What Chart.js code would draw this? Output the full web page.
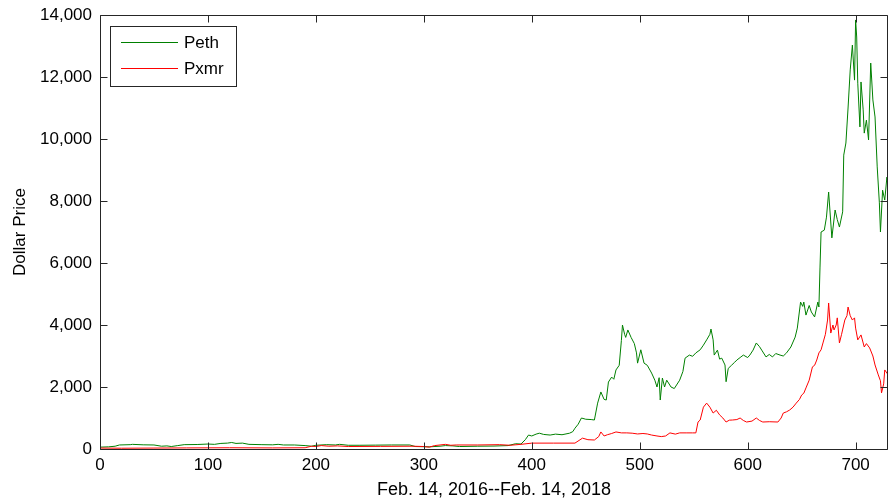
<!DOCTYPE html>
<html>
<head>
<meta charset="utf-8">
<script src="https://cdn.jsdelivr.net/npm/chart.js@4/dist/chart.umd.min.js"></script>
<style>
  html, body { margin: 0; padding: 0; background: #fff; }
  #wrap { width: 888px; height: 503px; }
</style>
</head>
<body>
<div id="wrap"><canvas id="myChart" width="888" height="503"></canvas></div>
<script>
// Values (day index, dollar price)
var ethDays = [0,8,14,18,28,30,40,50,57,62,66,72,78,90,100,106,112,118,122,126,132,138,150,160,165,170,180,190,196,200,210,218,222,230,240,255,270,287,292,305,315,320,327,333,350,365,378,385,390,394,397,400,404,407,411,417,422,428,435,438,440,443,446,450,455,458,461,464,467,469,471,474,476,478,481,483,484,486,487,489,492,495,497,498,501,504,507,511,514,516,518,519,521,523,525,529,532,537,540,542,546,549,552,556,559,562,565,566,568,569,572,574,576,579,580,582,585,588,590,593,596,600,602,605,608,611,613,617,620,623,626,630,633,636,640,644,646,649,651,652,654,657,659,662,665,666,667,668,671,673,675,678,681,683,685,688,689,691,693,695,697,699,700,701,702,704,705,707,708,710,712,714,716,718,720,722,723,725,727,729,730];
var ethPrice = [60,70,90,130,140,150,135,130,90,100,80,110,140,145,160,150,180,190,210,180,190,150,140,135,150,130,130,110,90,120,140,130,150,120,120,125,130,130,80,70,90,110,100,80,90,95,110,170,160,300,450,420,480,510,470,450,480,460,510,560,670,800,1000,960,950,935,1480,1840,1600,1580,2160,2320,2250,2550,2700,3500,4000,3700,3600,3840,3600,3400,3100,2770,3200,2770,2700,2450,2220,2000,2300,1580,2290,2000,2220,2000,1950,2220,2500,2930,3030,2990,3100,3200,3350,3520,3700,3870,3520,3030,3190,2900,2930,2710,2170,2600,2700,2800,2870,2950,3030,2950,3030,3190,3420,3300,3190,2970,3050,2970,3080,3030,3000,3100,3290,3610,3900,4740,4600,4740,4320,4630,4420,4260,4740,4580,5840,7000,7060,7480,8290,6810,7710,7400,7160,7650,9480,9870,11000,12230,13030,11900,13840,13290,11800,10390,11840,10940,10190,10610,9970,12450,11260,10710,9100,7940,7000,8350,8030,8770,8500];

var xmrDays = [0,20,50,80,120,160,190,196,200,205,212,220,230,260,290,300,305,310,315,320,325,330,350,370,380,390,400,420,440,447,452,458,462,464,467,470,474,478,483,488,493,498,503,507,511,516,520,524,528,533,537,543,549,552,554,556,559,562,565,568,571,574,577,580,583,586,590,593,596,599,604,608,611,614,620,628,631,633,636,639,642,645,648,650,652,654,657,660,662,664,666,668,670,672,674,675,677,679,680,682,683,685,687,690,692,693,695,697,699,700,702,705,708,710,713,716,718,721,723,724,726,727,729,730];
var xmrPrice = [30,25,30,35,40,35,40,90,80,110,90,100,80,85,90,80,60,110,130,150,120,130,130,140,120,150,190,190,190,350,300,290,400,550,420,460,500,550,520,520,510,485,500,485,450,420,400,420,520,480,520,520,520,520,870,935,1350,1480,1350,1160,1250,1100,1000,870,930,935,950,1000,920,870,900,1000,920,870,880,870,1000,1160,1200,1260,1350,1480,1600,1740,1800,1970,2220,2650,2700,2870,3100,3200,3450,3700,4160,4710,3740,4000,3840,4000,4230,3420,3700,4160,4300,4580,4300,4160,4230,3900,3520,3680,3290,3400,3260,3000,2710,2390,2200,1810,2100,2550,2450,2400];

var xTicks = [0,100,200,300,400,500,600,700];
var yTicks = [0,2000,4000,6000,8000,10000,12000,14000];

function pairs(days, vals) {
    return days.map(function (d, i) { return {x: d, y: vals[i]}; });
}

// MATLAB style box, inward tick marks and boxed legend
var matlabFrame = {
    id: 'matlabFrame',
    afterDraw: function (chart) {
        var ctx = chart.ctx, a = chart.chartArea;
        var xs = chart.scales.x, ys = chart.scales.y;
        var L = Math.round(a.left) + 0.5, R = Math.round(a.right) - 0.5;
        var T = Math.round(a.top) + 0.5, B = Math.round(a.bottom) + 0.5;
        ctx.save();
        ctx.strokeStyle = '#262626';
        ctx.lineWidth = 1;
        ctx.beginPath();
        ctx.rect(L, T, R - L, B - T);
        xTicks.forEach(function (v) {
            var px = Math.round(xs.getPixelForValue(v)) + 0.5;
            ctx.moveTo(px, B); ctx.lineTo(px, B - 7);
            ctx.moveTo(px, T); ctx.lineTo(px, T + 7);
        });
        yTicks.forEach(function (v) {
            var py = Math.round(ys.getPixelForValue(v)) + 0.5;
            ctx.moveTo(L, py); ctx.lineTo(L + 7, py);
            ctx.moveTo(R, py); ctx.lineTo(R - 7, py);
        });
        ctx.stroke();

        // legend box
        ctx.fillStyle = '#fff';
        ctx.fillRect(110.5, 26.5, 126, 60);
        ctx.strokeRect(110.5, 26.5, 126, 60);
        ctx.font = '17px "Liberation Sans", Arial, sans-serif';
        ctx.textBaseline = 'middle';
        chart.data.datasets.forEach(function (ds, i) {
            var y = 42 + i * 26;
            ctx.strokeStyle = ds.borderColor;
            ctx.beginPath();
            ctx.moveTo(121, y + 0.5); ctx.lineTo(178, y + 0.5);
            ctx.stroke();
            ctx.fillStyle = '#000';
            ctx.fillText(ds.label, 184, y + 1);
        });
        ctx.restore();
    }
};

var ctx = document.getElementById("myChart").getContext("2d");
var myChart = new Chart(ctx, {
    type: 'line',
    data: {
        datasets: [
            {
            label: "Peth",
            borderColor: "rgb(0, 128, 0)",
            borderWidth: 1,
            pointRadius: 0,
            order: 1,
            data: pairs(ethDays, ethPrice)
            },
            {
            label: "Pxmr",
            borderColor: "rgb(255, 0, 0)",
            borderWidth: 1,
            pointRadius: 0,
            order: 0,
            data: pairs(xmrDays, xmrPrice)
            }]
    },
    options: {
        responsive: false,
        animation: false,
        layout: { padding: { top: 15, right: 0, left: 0, bottom: 0 } },
        plugins: { legend: { display: false }, tooltip: { enabled: false } },
        scales: {
            x: {
                type: 'linear',
                min: 0,
                max: 730,
                afterBuildTicks: function (s) {
                    s.ticks = xTicks.map(function (v) { return {value: v}; });
                },
                afterFit: function (s) { s.height = 54; s.paddingLeft = 0; s.paddingRight = 0; },
                grid: { display: false, drawTicks: false, tickLength: 0 },
                border: { display: false },
                ticks: { color: '#000', padding: 6, maxRotation: 0,
                         font: { family: '"Liberation Sans", Arial, sans-serif', size: 17 } },
                title: { display: true, text: 'Feb. 14, 2016--Feb. 14, 2018', color: '#000',
                         padding: { top: 0, bottom: 2 },
                         font: { family: '"Liberation Sans", Arial, sans-serif', size: 18 } }
            },
            y: {
                min: 0,
                max: 14000,
                afterBuildTicks: function (s) {
                    s.ticks = yTicks.map(function (v) { return {value: v}; });
                },
                afterFit: function (s) { s.width = 100; s.paddingTop = 0; s.paddingBottom = 0; },
                grid: { display: false, drawTicks: false, tickLength: 0 },
                border: { display: false },
                ticks: { color: '#000', padding: 8,
                         font: { family: '"Liberation Sans", Arial, sans-serif', size: 17 } },
                title: { display: true, text: 'Dollar Price', color: '#000',
                         padding: { top: 10, bottom: 0 },
                         font: { family: '"Liberation Sans", Arial, sans-serif', size: 17 } }
            }
        }
    },
    plugins: [matlabFrame]
});
</script>
</body>
</html>
